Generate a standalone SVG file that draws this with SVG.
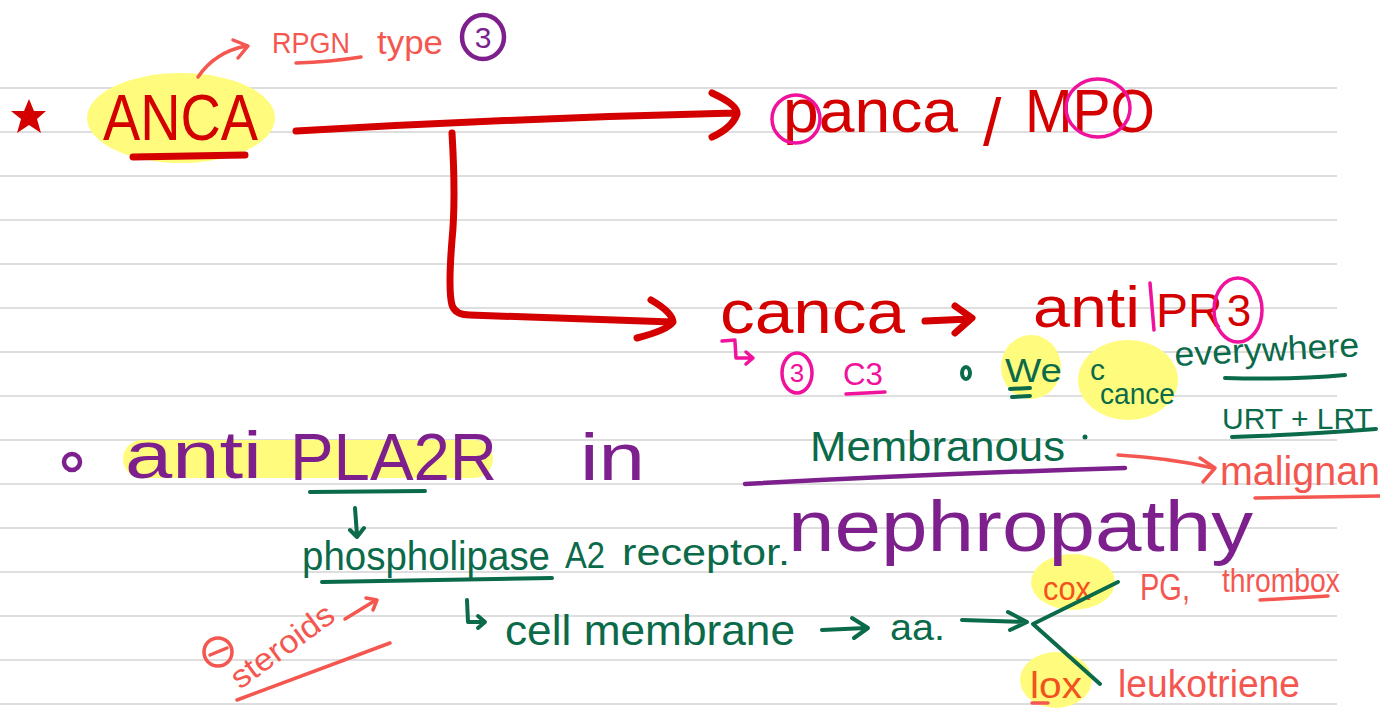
<svg xmlns="http://www.w3.org/2000/svg" width="1380" height="712" viewBox="0 0 1380 712">
<style>
text{font-family:"Liberation Sans","Noto Sans",sans-serif}
.red{fill:#d40000}.coral{fill:#f4574f}.pink{fill:#f0129c}.pur{fill:#7d1f8c}.grn{fill:#0b6a49}.org{fill:#f4511e}
.s{fill:none;stroke-linecap:round;stroke-linejoin:round}
.sr{stroke:#d40000;stroke-width:7}.sc{stroke:#f4574f;stroke-width:3.5}.sp{stroke:#f0129c;stroke-width:3.5}
.sg{stroke:#0b6a49;stroke-width:4}.su{stroke:#7d1f8c;stroke-width:4.5}
.hl{fill:#fffc7d}
.rule{stroke:#d3d3d3;stroke-width:1.5}
</style>
<rect width="1380" height="712" fill="#ffffff"/>
<g id="rules">
<path class="rule" d="M0,88H1337M0,132H1337M0,176H1337M0,220H1337M0,264H1337M0,308H1337M0,352H1337M0,396H1337M0,440H1337M0,484H1337M0,528H1337M0,572H1337M0,616H1337M0,660H1337M0,704H1337"/>
</g>
<g id="highlights">
<ellipse class="hl" cx="181" cy="118" rx="94" ry="45"/>
<ellipse class="hl" cx="1031" cy="367" rx="30" ry="32"/>
<ellipse class="hl" cx="1128" cy="380" rx="50" ry="40"/>
<rect class="hl" x="123" y="440" width="370" height="38" rx="19"/>
<ellipse class="hl" cx="1073" cy="582" rx="42" ry="28"/>
<ellipse class="hl" cx="1056" cy="680" rx="36" ry="28"/>
</g>
<g id="star">
<polygon class="red" points="29,99 34,111 46,111 37,119 41,133 29,125 17,133 21,119 11,111 24,111"/>
</g>
<g id="anca">
<text class="red" x="103" y="140" font-size="64" textLength="155" lengthAdjust="spacingAndGlyphs">ANCA</text>
<path class="s sr" d="M133,157L245,155"/>
</g>
<g id="rpgn">
<text class="coral" x="272" y="53" font-size="30" textLength="78" lengthAdjust="spacingAndGlyphs">RPGN</text>
<path class="s sc" d="M296,63Q330,62 361,57"/>
<text class="coral" x="377" y="54" font-size="34" textLength="66" lengthAdjust="spacingAndGlyphs">type</text>
<ellipse class="s su" cx="483" cy="37" rx="21" ry="22"/>
<text class="pur" x="483" y="48" font-size="30" text-anchor="middle">3</text>
</g>
<g id="panca">
<text class="red" x="783" y="132" font-size="62" textLength="175" lengthAdjust="spacingAndGlyphs">panca</text>
<text class="red" x="983" y="145" font-size="66">/</text>
<text class="red" x="1025" y="132" font-size="62" textLength="130" lengthAdjust="spacingAndGlyphs">MPO</text>
<circle class="s sp" cx="796" cy="119" r="24"/>
<ellipse class="s sp" cx="1098" cy="108" rx="32" ry="29"/>
</g>
<g id="canca">
<text class="red" x="720" y="333" font-size="62" textLength="185" lengthAdjust="spacingAndGlyphs">canca</text>
<text class="red" x="1033" y="327" font-size="58" textLength="107" lengthAdjust="spacingAndGlyphs">anti</text>
<text class="red" x="1156" y="327" font-size="48">PR</text>
<text class="red" x="1239" y="326" font-size="44" text-anchor="middle">3</text>
<path class="s sp" d="M1150,283L1154,330"/>
<ellipse class="s sp" cx="1238" cy="310" rx="24" ry="32"/>
<path class="s sp" d="M722,341L735,340"/>
</g>
<g id="c3">
<path class="s sp" d="M735,342L736,358L752,358M746,352L753,358L746,364"/>
<ellipse class="s sp" cx="797" cy="373" rx="15" ry="20"/>
<text class="pink" x="797" y="382" font-size="26" text-anchor="middle">3</text>
<text class="pink" x="843" y="385" font-size="32" textLength="40" lengthAdjust="spacingAndGlyphs">C3</text>
<path class="s sp" d="M846,394L885,392"/>
</g>
<g id="wec">
<ellipse class="s sg" cx="966" cy="373" rx="4" ry="6" stroke-width="3"/>
<text class="grn" x="1005" y="382" font-size="34" textLength="57" lengthAdjust="spacingAndGlyphs">We</text>
<path class="s sg" d="M1010,389L1030,388M1012,397L1030,396"/>
<text class="grn" x="1090" y="380" font-size="30">c</text>
<text class="grn" x="1100" y="404" font-size="30" textLength="75" lengthAdjust="spacingAndGlyphs">cance</text>
<text class="grn" x="1175" y="366" font-size="34" textLength="185" lengthAdjust="spacingAndGlyphs" transform="rotate(-3 1175 366)">everywhere</text>
<path class="s sg" d="M1225,378Q1290,380 1345,375"/>
<text class="grn" x="1222" y="429" font-size="30">URT + LRT</text>
<path class="s sg" d="M1232,437Q1300,435 1376,429"/>
</g>
<g id="pla2r">
<circle class="s su" cx="72" cy="462" r="8" stroke-width="5"/>
<text class="pur" x="125" y="478" font-size="66" textLength="137" lengthAdjust="spacingAndGlyphs">anti</text>
<text class="pur" x="290" y="480" font-size="66" textLength="207" lengthAdjust="spacingAndGlyphs">PLA2R</text>
<path class="s sg" d="M310,492L425,491"/>
<text class="pur" x="580" y="480" font-size="66" textLength="65" lengthAdjust="spacingAndGlyphs">in</text>
</g>
<g id="membranous">
<text class="grn" x="810" y="461" font-size="42" textLength="255" lengthAdjust="spacingAndGlyphs">Membranous</text>
<circle class="grn" cx="1085" cy="437" r="2.5"/>
<path class="s su" d="M745,484Q930,474 1125,468" stroke-width="8"/>
<text class="pur" x="788" y="551" font-size="72" textLength="465" lengthAdjust="spacingAndGlyphs">nephropathy</text>
</g>
<g id="malignancy">
<text class="coral" x="1220" y="485" font-size="40" textLength="160" lengthAdjust="spacingAndGlyphs">malignan</text>
<path class="s sc" d="M1255,498L1380,496"/>
</g>
<g id="phospholipase">
<text class="grn" x="302" y="570" font-size="40" textLength="248" lengthAdjust="spacingAndGlyphs">phospholipase</text>
<text class="grn" x="565" y="568" font-size="36" textLength="40" lengthAdjust="spacingAndGlyphs">A2</text>
<text class="grn" x="622" y="565" font-size="36" textLength="168" lengthAdjust="spacingAndGlyphs">receptor.</text>
<path class="s sg" d="M322,582Q440,580 552,578"/>
</g>
<g id="steroids">
<circle class="s sc" cx="218" cy="652" r="14"/>
<path class="s sc" d="M210,655L227,648"/>
<text class="coral" x="240" y="690" font-size="32" textLength="120" lengthAdjust="spacingAndGlyphs" transform="rotate(-36 240 690)">steroids</text>
<path class="s sc" d="M237,700L390,643"/>
</g>
<g id="cell">
<text class="grn" x="505" y="645" font-size="42" textLength="290" lengthAdjust="spacingAndGlyphs">cell membrane</text>
<text class="grn" x="890" y="640" font-size="36" textLength="55" lengthAdjust="spacingAndGlyphs">aa.</text>
</g>
<g id="cox">
<text class="org" x="1043" y="600" font-size="34" textLength="48" lengthAdjust="spacingAndGlyphs">cox</text>
<text class="coral" x="1140" y="600" font-size="36" textLength="50" lengthAdjust="spacingAndGlyphs">PG,</text>
<text class="coral" x="1222" y="592" font-size="34" textLength="118" lengthAdjust="spacingAndGlyphs">thrombox</text>
<path class="s sc" d="M1260,600L1328,596"/>
</g>
<g id="lox">
<text class="org" x="1030" y="698" font-size="36" textLength="52" lengthAdjust="spacingAndGlyphs">lox</text>
<path class="s sc" d="M1032,703L1048,703"/>
<text class="coral" x="1118" y="697" font-size="38" textLength="182" lengthAdjust="spacingAndGlyphs">leukotriene</text>
</g>
<g id="connectors">
<path class="s sc" d="M198,77Q215,52 246,46M233,40L248,46L238,58"/>
<path class="s sr" d="M296,131Q520,118 735,113M712,93Q738,105 737,114Q732,128 712,137"/>
<path class="s sr" d="M452,133Q456,200 452,240Q448,290 452,305Q455,315 470,315L672,322M651,300Q672,312 673,322Q668,330 637,338"/>
<path class="s sr" d="M925,321L970,319M955,306L972,318L955,333"/>
<path class="s sc" d="M1118,455Q1170,458 1213,468M1200,458L1215,468L1203,482"/>
<path class="s sg" d="M355,508L357,535M350,530L357,537L364,528"/>
<path class="s sc" d="M345,619L376,600M366,598L377,600L373,610"/>
<path class="s sg" d="M467,600L468,622L483,622M478,616L485,622L478,628"/>
<path class="s sg" d="M822,630L866,628M852,618L868,628L854,638"/>
<path class="s sg" d="M962,620L1025,622M1008,612L1027,622L1010,630"/>
<path class="s sg" d="M1118,582L1033,624L1100,684"/>
</g>
</svg>
